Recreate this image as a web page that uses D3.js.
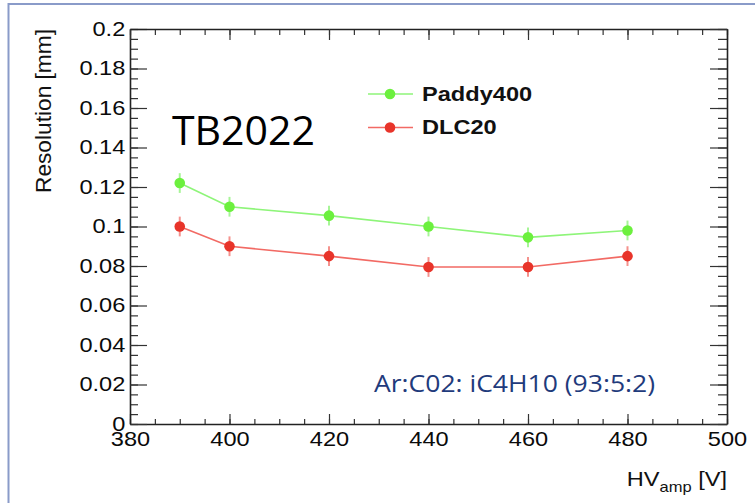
<!DOCTYPE html>
<html>
<head>
<meta charset="utf-8">
<script src="https://cdn.jsdelivr.net/npm/d3@7"></script>
<style>
  body { margin: 0; background: #fff; }
  svg text { font-family: "Liberation Sans", Arial, sans-serif; }
</style>
</head>
<body>
<div id="chart"></div>
<script>
const width = 755;
const height = 503;

// data
const hv = [390, 400, 420, 440, 460, 480];
const paddy400 = [0.122, 0.110, 0.1055, 0.100, 0.0945, 0.098];
const dlc20 = [0.100, 0.090, 0.085, 0.0795, 0.0795, 0.085];
const errPaddy = [0.005, 0.005, 0.005, 0.005, 0.005, 0.005];
const errDlc = [0.005, 0.005, 0.005, 0.005, 0.005, 0.005];
const seriesNames = ['Paddy400', 'DLC20'];
const xTicks = [380, 400, 420, 440, 460, 480, 500];
const yTicks = [0, 0.02, 0.04, 0.06, 0.08, 0.1, 0.12, 0.14, 0.16, 0.18, 0.2];

const frame = { left: 130, right: 727, top: 29, bottom: 424 };

const svg = d3.select('#chart').append('svg')
  .attr('width', width)
  .attr('height', height);

// slide border
svg.append('path')
  .attr('d', `M8.5,${height + 5} V4 H${width + 5}`)
  .attr('fill', 'none')
  .attr('stroke', '#8a9bc9')
  .attr('stroke-width', 2);

const x = d3.scaleLinear().domain([380, 500]).range([frame.left, frame.right]);
const y = d3.scaleLinear().domain([0, 0.2]).range([frame.bottom, frame.top]);

const fmt = (d) => String(+d.toFixed(3));
const stretch = 'scale(1.18,1)';

// minor ticks, all four sides
function minor(axis, tx, ty, vals) {
  svg.append('g').attr('transform', `translate(${tx},${ty})`)
    .call(axis.tickValues(vals).tickFormat('').tickSizeOuter(0))
    .call((g) => g.select('.domain').remove())
    .selectAll('line').attr('stroke', '#333').attr('stroke-width', 1.2);
}
const xMinor = x.ticks(24);
const yMinor = y.ticks(40);
minor(d3.axisBottom(x).tickSizeInner(-5), 0, frame.bottom, xMinor);
minor(d3.axisTop(x).tickSizeInner(-6), 0, frame.top, xMinor);
minor(d3.axisLeft(y).tickSizeInner(-8), frame.left, 0, yMinor);
minor(d3.axisRight(y).tickSizeInner(-9), frame.right, 0, yMinor);

// major ticks
const gx = svg.append('g')
  .attr('transform', `translate(0,${frame.bottom})`)
  .call(d3.axisBottom(x).tickValues(xTicks).tickFormat(d3.format('d'))
    .tickSizeInner(-10).tickSizeOuter(0).tickPadding(8));
const gy = svg.append('g')
  .attr('transform', `translate(${frame.left},0)`)
  .call(d3.axisLeft(y).tickValues(yTicks).tickFormat(fmt)
    .tickSizeInner(-17).tickSizeOuter(0).tickPadding(4));
const gt = svg.append('g')
  .attr('transform', `translate(0,${frame.top})`)
  .call(d3.axisTop(x).tickValues(xTicks).tickFormat('')
    .tickSizeInner(-11).tickSizeOuter(0));
const gr = svg.append('g')
  .attr('transform', `translate(${frame.right},0)`)
  .call(d3.axisRight(y).tickValues(yTicks).tickFormat('')
    .tickSizeInner(-17).tickSizeOuter(0));

[gx, gy, gt, gr].forEach((g) => {
  g.select('.domain').attr('stroke', '#222').attr('stroke-width', 1.6);
  g.selectAll('line').attr('stroke', '#333').attr('stroke-width', 1.2);
  g.selectAll('text')
    .attr('fill', '#0a0a0a')
    .style('font-size', '20px')
    .attr('transform', stretch);
});

// axis titles
svg.append('text')
  .attr('transform', `translate(51,${frame.top}) rotate(-90)`)
  .attr('text-anchor', 'end')
  .style('font-size', '22px')
  .attr('fill', '#111')
  .attr('textLength', 164)
  .attr('lengthAdjust', 'spacingAndGlyphs')
  .text('Resolution [mm]');

const xt = svg.append('text')
  .attr('transform', `translate(${frame.right},486) ${stretch}`)
  .attr('text-anchor', 'end')
  .attr('fill', '#111')
  .style('font-size', '20px');
xt.append('tspan').text('HV');
xt.append('tspan').attr('dy', 6).style('font-size', '14px').text('amp');
xt.append('tspan').attr('dy', -6).text(' [V]');

// data series
const series = [
  { name: seriesNames[0], values: paddy400, err: errPaddy, marker: '#6cf03e', line: '#8ef579', bar: '#a6f596' },
  { name: seriesNames[1], values: dlc20, err: errDlc, marker: '#e8342a', line: '#f26a64', bar: '#f4928d' },
];

const line = d3.line().x((d) => x(d.x)).y((d) => y(d.y));

series.forEach((s) => {
  const pts = hv.map((v, i) => ({ x: v, y: s.values[i], e: s.err[i] }));
  const g = svg.append('g');
  g.append('path')
    .datum(pts)
    .attr('d', line)
    .attr('fill', 'none')
    .attr('stroke', s.line)
    .attr('stroke-width', 1.6);
  g.selectAll('line.err')
    .data(pts)
    .enter()
    .append('line')
    .attr('class', 'err')
    .attr('x1', (d) => x(d.x))
    .attr('x2', (d) => x(d.x))
    .attr('y1', (d) => y(d.y - d.e))
    .attr('y2', (d) => y(d.y + d.e))
    .attr('stroke', s.bar)
    .attr('stroke-width', 2);
  g.selectAll('circle')
    .data(pts)
    .enter()
    .append('circle')
    .attr('cx', (d) => x(d.x))
    .attr('cy', (d) => y(d.y))
    .attr('r', 5.3)
    .attr('fill', s.marker);
});

// legend
const legend = svg.append('g').attr('transform', 'translate(368,94)');
series.forEach((s, i) => {
  const row = legend.append('g').attr('transform', `translate(0,${i * 33.5})`);
  row.append('line')
    .attr('x1', 0).attr('x2', 45)
    .attr('stroke', s.line).attr('stroke-width', 1.6);
  row.append('circle').attr('cx', 22).attr('r', 5.3).attr('fill', s.marker);
  row.append('text')
    .attr('transform', `translate(54,6.5) ${stretch}`)
    .style('font-size', '20px')
    .style('font-weight', 'bold')
    .attr('fill', '#111')
    .text(s.name);
});

// slide annotations
svg.append('text')
  .attr('x', 172)
  .attr('y', 145)
  .style('font-family', '"Open Sans", sans-serif')
  .style('font-size', '41px')
  .attr('fill', '#000')
  .attr('textLength', 143)
  .attr('lengthAdjust', 'spacingAndGlyphs')
  .text('TB2022');

svg.append('text')
  .attr('x', 374)
  .attr('y', 392)
  .style('font-family', '"Open Sans", sans-serif')
  .style('font-size', '23px')
  .attr('fill', '#1f3b7c')
  .attr('textLength', 281)
  .attr('lengthAdjust', 'spacingAndGlyphs')
  .text('Ar:C02: iC4H10 (93:5:2)');
</script>
</body>
</html>
